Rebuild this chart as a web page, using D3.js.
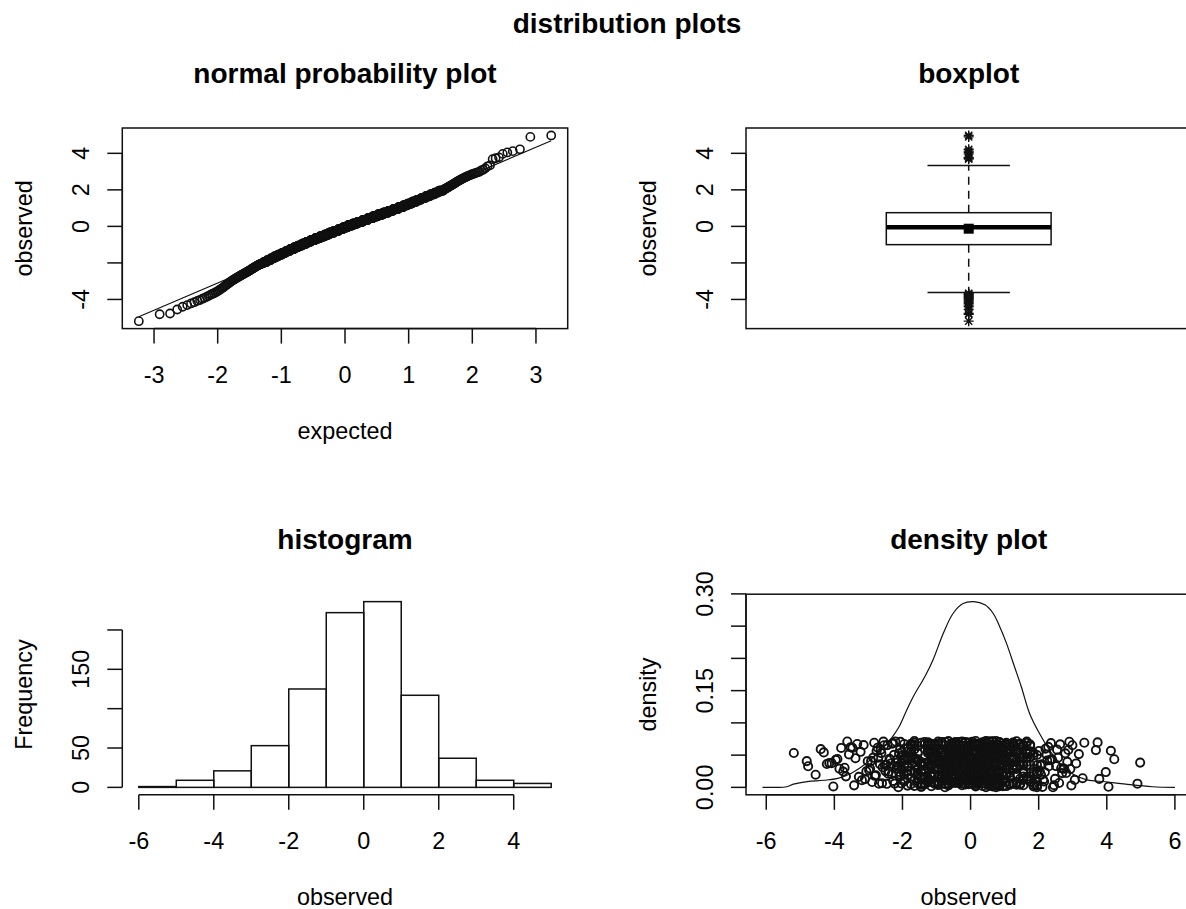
<!DOCTYPE html>
<html>
<head>
<meta charset="utf-8">
<script src="https://cdn.jsdelivr.net/npm/d3@7"></script>
<style>
  html, body { margin: 0; padding: 0; background: #fff; }
  svg { display: block; }
  text { font-family: "Liberation Sans", Arial, Helvetica, sans-serif; fill: #000; }
</style>
</head>
<body>
<svg id="fig" width="1186" height="909"></svg>
<script>
// ---- observations -------------------------------------------------------
// lower tail (below -2), one entry per observation
const lowTail = [
  -5.19, -4.81, -4.77, -4.55, -4.40, -4.31, -4.22, -4.15, -4.08, -4.03,
  -3.96, -3.91, -3.85, -3.80, -3.74, -3.70, -3.66, -3.62, -3.57, -3.52,
  -3.47, -3.42, -3.38, -3.33, -3.28, -3.23, -3.19, -3.14, -3.10, -3.06, -3.02,
  -2.98, -2.95, -2.92, -2.89, -2.86, -2.83, -2.81, -2.78, -2.76, -2.73,
  -2.71, -2.69, -2.66, -2.64, -2.62, -2.60, -2.58, -2.56, -2.54, -2.52,
  -2.50, -2.48, -2.46, -2.44, -2.42, -2.40, -2.38, -2.36, -2.34, -2.32,
  -2.30, -2.28, -2.27, -2.25, -2.23, -2.21, -2.20, -2.18, -2.16, -2.15,
  -2.13, -2.12, -2.10, -2.09, -2.08, -2.07, -2.06, -2.05, -2.04, -2.03,
  -2.02, -2.02, -2.01
];
// central observations on a 0.1 grid: value and number of occurrences
const coreValues = [
  -1.95, -1.85, -1.75, -1.65, -1.55, -1.45, -1.35, -1.25, -1.15, -1.05,
  -0.95, -0.85, -0.75, -0.65, -0.55, -0.45, -0.35, -0.25, -0.15, -0.05,
   0.05,  0.15,  0.25,  0.35,  0.45,  0.55,  0.65,  0.75,  0.85,  0.95,
   1.05,  1.15,  1.25,  1.35,  1.45,  1.55,  1.65,  1.75,  1.85,  1.95
];
const coreCounts = [
   8,  9, 10, 11, 12, 13, 14, 15, 16, 17,
  18, 19, 21, 22, 23, 23, 24, 24, 24, 24,
  26, 26, 26, 25, 24, 24, 23, 22, 20, 20,
  17, 15, 14, 13, 12, 11, 10,  9,  8,  8
];
// upper tail (above 2), one entry per observation
const highTail = [
  2.01, 2.03, 2.05, 2.07, 2.09, 2.11, 2.13, 2.16, 2.18, 2.20,
  2.23, 2.25, 2.28, 2.30, 2.33, 2.36, 2.39, 2.42, 2.45, 2.48,
  2.51, 2.54, 2.57, 2.60, 2.63, 2.66, 2.69, 2.72, 2.75, 2.78,
  2.81, 2.84, 2.87, 2.90, 2.93, 2.96, 2.99,
  3.06, 3.10, 3.18, 3.29, 3.34, 3.68, 3.73, 3.78, 3.97,
  4.05, 4.12, 4.22, 4.90, 4.98
];

// kernel density estimate of the observations
const densityX = [-6.11, -5.70, -5.40, -5.20, -4.80, -4.30, -3.90, -3.50, -3.00, -2.56,
                  -2.30, -2.10, -1.90, -1.68, -1.34, -1.10, -0.80, -0.51, -0.22, 0.09,
                   0.42, 0.66, 0.85, 1.05, 1.29, 1.49, 1.73, 2.02, 2.45, 2.90,
                   3.39, 3.97, 4.56, 5.34, 6.00];
const densityY = [0.000, 0.000, 0.001, 0.005, 0.009, 0.011, 0.014, 0.022, 0.040, 0.062,
                  0.078, 0.094, 0.117, 0.141, 0.172, 0.198, 0.239, 0.270, 0.285, 0.288,
                  0.283, 0.270, 0.250, 0.224, 0.187, 0.156, 0.115, 0.084, 0.048, 0.024,
                  0.012, 0.0087, 0.005, 0.001, 0.000];

// ---- axis ticks ----------------------------------------------------------
const histBreaks = [-6, -5, -4, -3, -2, -1, 0, 1, 2, 3, 4, 5];
const expectedTicks = [-3, -2, -1, 0, 1, 2, 3];
const observedTicks = [-4, -2, 0, 2, 4];
const observedTickLabels = ["-4", "", "0", "2", "4"];
const freqTicks = [0, 50, 100, 150, 200];
const freqTickLabels = ["0", "50", "", "150", ""];
const histXTicks = [-6, -4, -2, 0, 2, 4];
const densXTicks = [-6, -4, -2, 0, 2, 4, 6];
const densYTicks = [0, 0.05, 0.10, 0.15, 0.20, 0.25, 0.30];
const densYTickLabels = ["0.00", "", "", "0.15", "", "", "0.30"];

// ---- layout --------------------------------------------------------------
const PW = 445.4, PH = 200.6;
const FS = 23.4, FS_TITLE = 28;
const TICK = 15;
const INK = "#111";
const LW = 1.5;
const PT_R = 4.1, PT_W = 1.6, RUG_W = 1.9;
const panel = {
  qq:   { x: 122.3, y: 128.0 },
  box:  { x: 746.0, y: 128.0 },
  hist: { x: 122.3, y: 594.2 },
  dens: { x: 746.0, y: 594.2 }
};

// observations, sorted
const observed = lowTail.slice();
coreValues.forEach((v, i) => { for (let k = 0; k < coreCounts[i]; k++) observed.push(v); });
highTail.forEach(v => observed.push(v));
observed.sort(d3.ascending);
const n = observed.length;

// inverse of the standard normal distribution (Acklam)
function qnorm(p) {
  const a = [-3.969683028665376e+01, 2.209460984245205e+02, -2.759285104469687e+02,
             1.383577518672690e+02, -3.066479806614716e+01, 2.506628277459239e+00];
  const b = [-5.447609879822406e+01, 1.615858368580409e+02, -1.556989798598866e+02,
             6.680131188771972e+01, -1.328068155288572e+01];
  const c = [-7.784894002430293e-03, -3.223964580411365e-01, -2.400758277161838e+00,
             -2.549732539343734e+00, 4.374664141464968e+00, 2.938163982698783e+00];
  const d = [7.784695709041462e-03, 3.224671290700398e-01, 2.445134137142996e+00,
             3.754408661907416e+00];
  const pl = 0.02425;
  if (p < pl) {
    const q = Math.sqrt(-2 * Math.log(p));
    return (((((c[0]*q+c[1])*q+c[2])*q+c[3])*q+c[4])*q+c[5]) / ((((d[0]*q+d[1])*q+d[2])*q+d[3])*q+1);
  }
  if (p > 1 - pl) {
    const q = Math.sqrt(-2 * Math.log(1 - p));
    return -(((((c[0]*q+c[1])*q+c[2])*q+c[3])*q+c[4])*q+c[5]) / ((((d[0]*q+d[1])*q+d[2])*q+d[3])*q+1);
  }
  const q = p - 0.5, r = q * q;
  return (((((a[0]*r+a[1])*r+a[2])*r+a[3])*r+a[4])*r+a[5])*q / (((((b[0]*r+b[1])*r+b[2])*r+b[3])*r+b[4])*r+1);
}

// plotting-range padding of 4% on each side
function padded(lo, hi) { const r = hi - lo; return [lo - 0.04 * r, hi + 0.04 * r]; }

const svg = d3.select("#fig");
svg.append("rect").attr("width", 1186).attr("height", 909).attr("fill", "#fff");

function frame(g) {
  g.append("rect").attr("x", 0).attr("y", 0).attr("width", PW).attr("height", PH)
    .attr("fill", "none").attr("stroke", INK).attr("stroke-width", LW);
}

function bottomAxis(g, scale, ticks, labels) {
  const ax = g.append("g").attr("transform", `translate(0,${PH})`);
  ax.append("line").attr("x1", scale(ticks[0])).attr("x2", scale(ticks[ticks.length - 1]))
    .attr("y1", 0).attr("y2", 0).attr("stroke", INK).attr("stroke-width", LW);
  ticks.forEach((t, i) => {
    ax.append("line").attr("x1", scale(t)).attr("x2", scale(t)).attr("y1", 0).attr("y2", TICK)
      .attr("stroke", INK).attr("stroke-width", LW);
    if (labels[i] !== "") {
      ax.append("text").attr("x", scale(t)).attr("y", 54.6).attr("text-anchor", "middle")
        .style("font-size", FS + "px").text(labels[i]);
    }
  });
}

function leftAxis(g, scale, ticks, labels) {
  const ax = g.append("g");
  ax.append("line").attr("x1", 0).attr("x2", 0)
    .attr("y1", scale(ticks[0])).attr("y2", scale(ticks[ticks.length - 1]))
    .attr("stroke", INK).attr("stroke-width", LW);
  ticks.forEach((t, i) => {
    ax.append("line").attr("x1", -TICK).attr("x2", 0).attr("y1", scale(t)).attr("y2", scale(t))
      .attr("stroke", INK).attr("stroke-width", LW);
    if (labels[i] !== "") {
      const bx = -33.3, by = scale(t);
      ax.append("text").attr("x", bx).attr("y", by).attr("text-anchor", "middle")
        .attr("transform", `rotate(-90,${bx},${by})`)
        .style("font-size", FS + "px").text(labels[i]);
    }
  });
}

function labels(g, title, xlab, ylab) {
  g.append("text").attr("x", PW / 2).attr("y", -45).attr("text-anchor", "middle")
    .style("font-size", FS_TITLE + "px").style("font-weight", "bold").text(title);
  if (xlab) {
    g.append("text").attr("x", PW / 2).attr("y", PH + 110.3).attr("text-anchor", "middle")
      .style("font-size", FS + "px").text(xlab);
  }
  const bx = -90.3, by = PH / 2;
  g.append("text").attr("x", bx).attr("y", by).attr("text-anchor", "middle")
    .attr("transform", `rotate(-90,${bx},${by})`)
    .style("font-size", FS + "px").text(ylab);
}

// figure title
svg.append("text").attr("x", 627).attr("y", 33).attr("text-anchor", "middle")
  .style("font-size", FS_TITLE + "px").style("font-weight", "bold").text("distribution plots");

const obsDomain = padded(d3.min(observed), d3.max(observed));

// ---- normal probability plot --------------------------------------------
{
  const g = svg.append("g").attr("transform", `translate(${panel.qq.x},${panel.qq.y})`);
  const expected = observed.map((_, i) => qnorm((i + 1 - 0.5) / n));
  const x = d3.scaleLinear().domain(padded(d3.min(expected), d3.max(expected))).range([0, PW]);
  const y = d3.scaleLinear().domain(obsDomain).range([PH, 0]);
  const mu = d3.mean(observed), sd = d3.deviation(observed);
  const ex = d3.extent(expected);
  g.append("path")
    .datum(ex)
    .attr("d", d3.line().x(e => x(e)).y(e => y(mu + sd * e)))
    .attr("fill", "none").attr("stroke", INK).attr("stroke-width", 1.2);
  g.append("g").selectAll("circle").data(observed).join("circle")
    .attr("cx", (d, i) => x(expected[i])).attr("cy", d => y(d)).attr("r", PT_R)
    .attr("fill", "none").attr("stroke", INK).attr("stroke-width", PT_W);
  frame(g);
  bottomAxis(g, x, expectedTicks, expectedTicks.map(String));
  leftAxis(g, y, observedTicks, observedTickLabels);
  labels(g, "normal probability plot", "expected", "observed");
}

// ---- boxplot ---------------------------------------------------------------
{
  const g = svg.append("g").attr("transform", `translate(${panel.box.x},${panel.box.y})`);
  const x = d3.scaleLinear().domain([0.5, 1.5]).range([0, PW]);
  const y = d3.scaleLinear().domain(obsDomain).range([PH, 0]);
  // Tukey five-number summary
  const at = k => 0.5 * (observed[Math.floor(k) - 1] + observed[Math.ceil(k) - 1]);
  const n4 = Math.floor((n + 3) / 2) / 2;
  const lower = at(n4), med = at((n + 1) / 2), upper = at(n + 1 - n4);
  const iqr = upper - lower;
  const inside = observed.filter(v => v >= lower - 1.5 * iqr && v <= upper + 1.5 * iqr);
  const wLo = d3.min(inside), wHi = d3.max(inside);
  const outliers = observed.filter(v => v < wLo || v > wHi);
  const halfBox = 0.185, halfStaple = 0.0925;
  const cx = x(1);

  [[upper, wHi], [lower, wLo]].forEach(([a, b]) => {
    g.append("line").attr("x1", cx).attr("x2", cx).attr("y1", y(a)).attr("y2", y(b))
      .attr("stroke", INK).attr("stroke-width", LW).attr("stroke-dasharray", "8,6");
  });
  [wHi, wLo].forEach(v => {
    g.append("line").attr("x1", x(1 - halfStaple)).attr("x2", x(1 + halfStaple))
      .attr("y1", y(v)).attr("y2", y(v)).attr("stroke", INK).attr("stroke-width", LW);
  });
  g.append("rect").attr("x", x(1 - halfBox)).attr("width", x(1 + halfBox) - x(1 - halfBox))
    .attr("y", y(upper)).attr("height", y(lower) - y(upper))
    .attr("fill", "#fff").attr("stroke", INK).attr("stroke-width", LW);
  g.append("line").attr("x1", x(1 - halfBox)).attr("x2", x(1 + halfBox))
    .attr("y1", y(med)).attr("y2", y(med)).attr("stroke", "#000").attr("stroke-width", 4.5);
  const mean = d3.mean(observed);
  g.append("rect").attr("x", cx - 5).attr("y", y(mean) - 5).attr("width", 10).attr("height", 10)
    .attr("fill", "#000");
  const s = 5, t = s * 0.72;
  const star = `M${-s},0H${s}M0,${-s}V${s}M${-t},${-t}L${t},${t}M${-t},${t}L${t},${-t}`;
  g.append("g").selectAll("path").data(outliers).join("path")
    .attr("transform", d => `translate(${cx},${y(d)})`).attr("d", star)
    .attr("fill", "none").attr("stroke", INK).attr("stroke-width", 1.4);
  frame(g);
  leftAxis(g, y, observedTicks, observedTickLabels);
  labels(g, "boxplot", null, "observed");
}

// ---- histogram -------------------------------------------------------------
{
  const g = svg.append("g").attr("transform", `translate(${panel.hist.x},${panel.hist.y})`);
  const bins = d3.bin().domain([histBreaks[0], histBreaks[histBreaks.length - 1]])
    .thresholds(histBreaks.slice(1, -1))(observed);
  const x = d3.scaleLinear().domain(padded(histBreaks[0], histBreaks[histBreaks.length - 1])).range([0, PW]);
  const y = d3.scaleLinear().domain(padded(0, d3.max(bins, b => b.length))).range([PH, 0]);
  g.append("g").selectAll("rect").data(bins).join("rect")
    .attr("x", b => x(b.x0)).attr("width", b => x(b.x1) - x(b.x0))
    .attr("y", b => y(b.length)).attr("height", b => y(0) - y(b.length))
    .attr("fill", "none").attr("stroke", INK).attr("stroke-width", LW);
  bottomAxis(g, x, histXTicks, histXTicks.map(String));
  leftAxis(g, y, freqTicks, freqTickLabels);
  labels(g, "histogram", "observed", "Frequency");
}

// ---- density plot ----------------------------------------------------------
{
  const g = svg.append("g").attr("transform", `translate(${panel.dens.x},${panel.dens.y})`);
  const x = d3.scaleLinear().domain(padded(d3.min(densityX), d3.max(densityX))).range([0, PW]);
  const peak = d3.max(densityY);
  const y = d3.scaleLinear().domain(padded(0, peak)).range([PH, 0]);
  g.append("path")
    .datum(densityX.map((v, i) => [v, densityY[i]]))
    .attr("d", d3.line().x(d => x(d[0])).y(d => y(d[1])).curve(d3.curveCatmullRom))
    .attr("fill", "none").attr("stroke", INK).attr("stroke-width", 1.2);
  // rug of observations, spread vertically over the bottom quarter of the peak height
  const spread = i => { const s = Math.sin((i + 1) * 12.9898 + 78.233) * 43758.5453; return s - Math.floor(s); };
  g.append("g").selectAll("circle").data(observed).join("circle")
    .attr("cx", d => x(d)).attr("cy", (d, i) => y(spread(i) * peak / 4)).attr("r", PT_R)
    .attr("fill", "none").attr("stroke", INK).attr("stroke-width", RUG_W);
  frame(g);
  bottomAxis(g, x, densXTicks, densXTicks.map(String));
  leftAxis(g, y, densYTicks, densYTickLabels);
  labels(g, "density plot", "observed", "density");
}
</script>
</body>
</html>
